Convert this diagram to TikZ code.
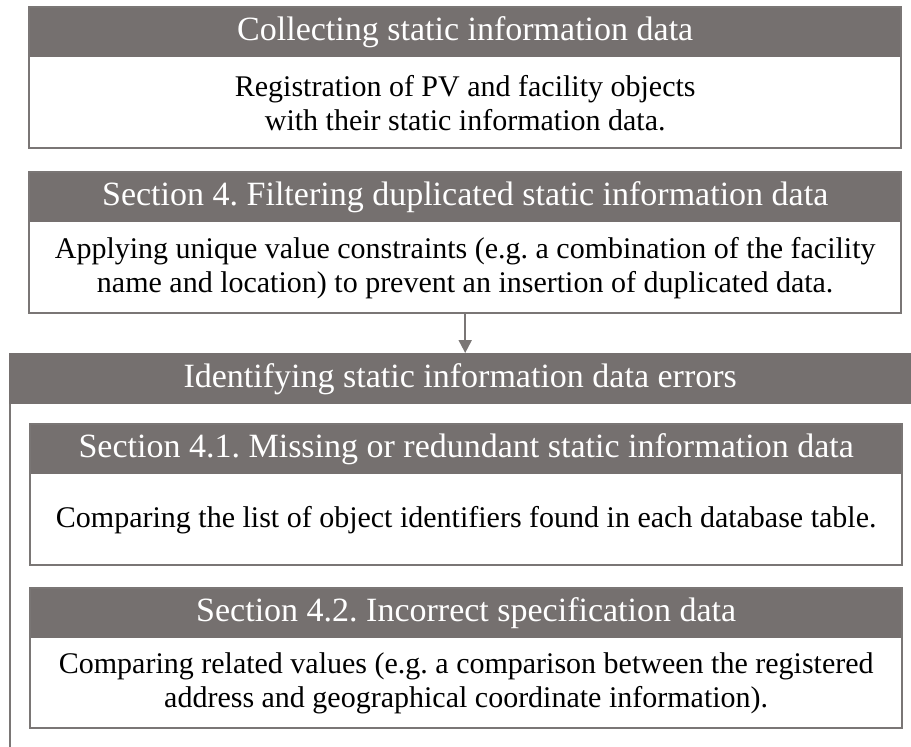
\documentclass[tikz,border=0pt]{standalone}
\usepackage{fontspec}
\setmainfont{Liberation Serif}
\usetikzlibrary{arrows.meta}
\definecolor{hdrgray}{HTML}{75706F}
\definecolor{rulegray}{HTML}{7A7675}
\newcommand{\hdrfont}{\fontsize{34}{38}\selectfont}
\newcommand{\txtfont}{\fontsize{30}{34}\selectfont}
\frenchspacing

\begin{document}
\begin{tikzpicture}[x=1pt,y=-1pt,
  hdr/.style={fill=hdrgray,text=white,font=\hdrfont,minimum width=872pt,
    minimum height=50pt,inner sep=0pt,anchor=north west},
  txt/.style={font=\txtfont,align=center,minimum width=872pt,
    minimum height=91pt,inner sep=0pt,anchor=north west},
  frame/.style={draw=rulegray,line width=2pt},
  link/.style={draw=rulegray,line width=2pt,-{Triangle[length=13pt,width=13pt]}}]
\useasboundingbox (0,0) rectangle (911,747);

% collecting step
\node[hdr] (h1) at (29,7) {Collecting static information data};
\node[txt] (b1) at (29,57) {Registration of PV and facility objects\\with their static information data.};
\draw[frame] (h1.north west) rectangle (b1.south east);

% filtering step
\node[hdr] (h2) at (29,172) {Section 4. Filtering duplicated static information data};
\node[txt] (b2) at (29,222) {Applying unique value constraints (e.g. a combination of the facility\\name and location) to prevent an insertion of duplicated data.};
\draw[frame] (h2.north west) rectangle (b2.south east);

% error identification group
\node[hdr,minimum width=902pt,minimum height=51pt] (oh) at (9,353) {Identifying static information data errors};
\coordinate (oend) at (10,747);
\draw[frame] (oh.south west -| oend) -- (oend);

\node[hdr] (h41) at (30,424) {Section 4.1. Missing or redundant static information data};
\node[txt] (b41) at (30,474) {Comparing the list of object identifiers found in each database table.};
\draw[frame] (h41.north west) rectangle (b41.south east);

\node[hdr] (h42) at (30,588) {Section 4.2. Incorrect specification data};
\node[txt,minimum height=90pt] (b42) at (30,638) {Comparing related values (e.g. a comparison between the registered\\address and geographical coordinate information).};
\draw[frame] (h42.north west) rectangle (b42.south east);

% flow arrow
\draw[link] (b2.south) -- (b2.south |- oh.north);
\end{tikzpicture}
\end{document}
